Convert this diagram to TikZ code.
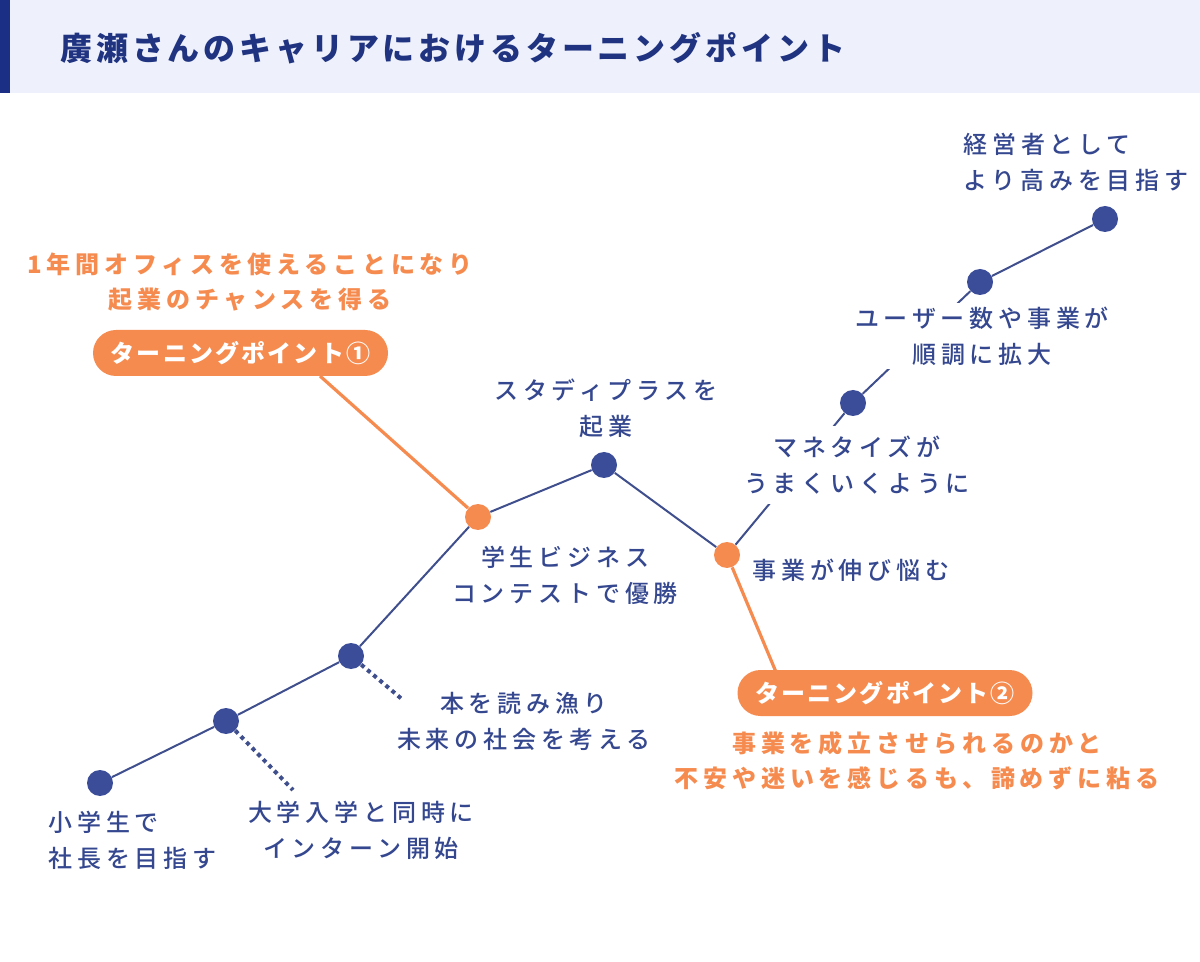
\documentclass[tikz,border=0pt]{standalone}
\usepackage{fontspec}
\setmainfont{Noto Sans CJK JP}
\IfFontExistsTF{Noto Sans CJK JP Medium}
  {\newfontfamily\trackedfont{Noto Sans CJK JP Medium}[LetterSpace = 20]}
  {\newfontfamily\trackedfont{Noto Sans CJK JP}[LetterSpace = 20]}
\newfontfamily\orangefont{Noto Sans CJK JP}[LetterSpace = 20]
\newfontfamily\pillfont{Noto Sans CJK JP}[LetterSpace = 9]
\newfontfamily\titlefont{Noto Sans CJK JP}[LetterSpace = 12]

\definecolor{headbg}{HTML}{EEF1FB}
\definecolor{headbar}{HTML}{1B2F85}
\definecolor{titlenavy}{HTML}{1F3381}
\definecolor{textnavy}{HTML}{34478F}
\definecolor{dotblue}{HTML}{3B4D99}
\definecolor{linenavy}{HTML}{3F4E8C}
\definecolor{tporange}{HTML}{F68B4F}

\tikzset{
  dot/.style = {circle, fill = dotblue, inner sep = 0pt, minimum size = 13pt},
  turndot/.style = {dot, fill = tporange},
  pathline/.style = {draw = linenavy, line width = 1pt},
  hintline/.style = {draw = linenavy, line width = 2pt, dash pattern = on 2pt off 2pt},
  turnline/.style = {draw = tporange, line width = 1.6pt},
  event/.style = {font = \trackedfont\fontsize{12}{18}\selectfont, text = textnavy,
                  align = center, inner sep = 2pt},
  gapped/.style = {event, fill = white},
  turntext/.style = {event, text = tporange, font = \orangefont\bfseries\fontsize{12}{17.5}\selectfont},
  pill/.style = {fill = tporange, text = white, rounded corners = 11.5pt,
                 minimum width = 147.5pt, minimum height = 23pt, inner sep = 0pt,
                 font = \pillfont\bfseries\fontsize{12}{14}\selectfont}
}

\begin{document}
\begin{tikzpicture}[x = .5pt, y = -.5pt]
  \useasboundingbox (0,0) rectangle (1200,962);

  % header
  \fill [headbg] (0,0) rectangle (1200,93);
  \fill [headbar] (0,0) rectangle (10,93);
  \node [anchor = west, text = titlenavy, inner sep = 0pt,
         font = \titlefont\bfseries\fontsize{16}{18}\selectfont]
    (title) at (60,48) {廣瀬さんのキャリアにおけるターニングポイント};

  % career points
  \node [dot] (p1) at (100,783) {};
  \node [dot] (p2) at (226,721) {};
  \node [dot] (p3) at (351,656) {};
  \node [turndot] (p4) at (478,517) {};
  \node [dot] (p5) at (604,465) {};
  \node [turndot] (p6) at (727,555) {};
  \node [dot] (p7) at (853,403) {};
  \node [dot] (p8) at (980,282) {};
  \node [dot] (p9) at (1105,219) {};

  \coordinate (p2tail) at (293,790);
  \coordinate (p3tail) at (403,700);
  \coordinate (tp1foot) at (320,376);
  \coordinate (tp2foot) at (776,672);

  \draw [pathline] (p1) -- (p2) -- (p3) -- (p4) -- (p5) -- (p6) -- (p7) -- (p8) -- (p9);
  \draw [hintline] (p2) -- (p2tail);
  \draw [hintline] (p3) -- (p3tail);
  \draw [turnline] (p4) -- (tp1foot);
  \draw [turnline] (p6) -- (tp2foot);

  % turning points
  \node [pill] (tp1) at (240.5,353) {ターニングポイント①};
  \node [pill] (tp2) at (885,693) {ターニングポイント②};
  \node [turntext] (tp1note) at (250,282) {1年間オフィスを使えることになり\\起業のチャンスを得る};
  \node [turntext] (tp2note) at (917,761) {事業を成立させられるのかと\\不安や迷いを感じるも、諦めずに粘る};

  % labels
  \node [event, anchor = west, align = left] (l1) at (44,840) {小学生で\\社長を目指す};
  \node [event] (l2) at (361,830) {大学入学と同時に\\インターン開始};
  \node [event] (l3) at (524,721) {本を読み漁り\\未来の社会を考える};
  \node [event] (l4) at (565,575) {学生ビジネス\\コンテストで優勝};
  \node [event] (l5) at (606,408) {スタディプラスを\\起業};
  \node [event, anchor = west] (l6) at (748,570) {事業が伸び悩む};
  \node [gapped, inner xsep = 4pt, inner ysep = 5pt] (l7) at (857,465) {マネタイズが\\うまくいくように};
  \node [gapped, inner sep = 2pt] (l8) at (982,336) {ユーザー数や事業が\\順調に拡大};
  \node [event, anchor = west, align = left] (l9) at (959,162) {経営者として\\より高みを目指す};
\end{tikzpicture}
\end{document}
